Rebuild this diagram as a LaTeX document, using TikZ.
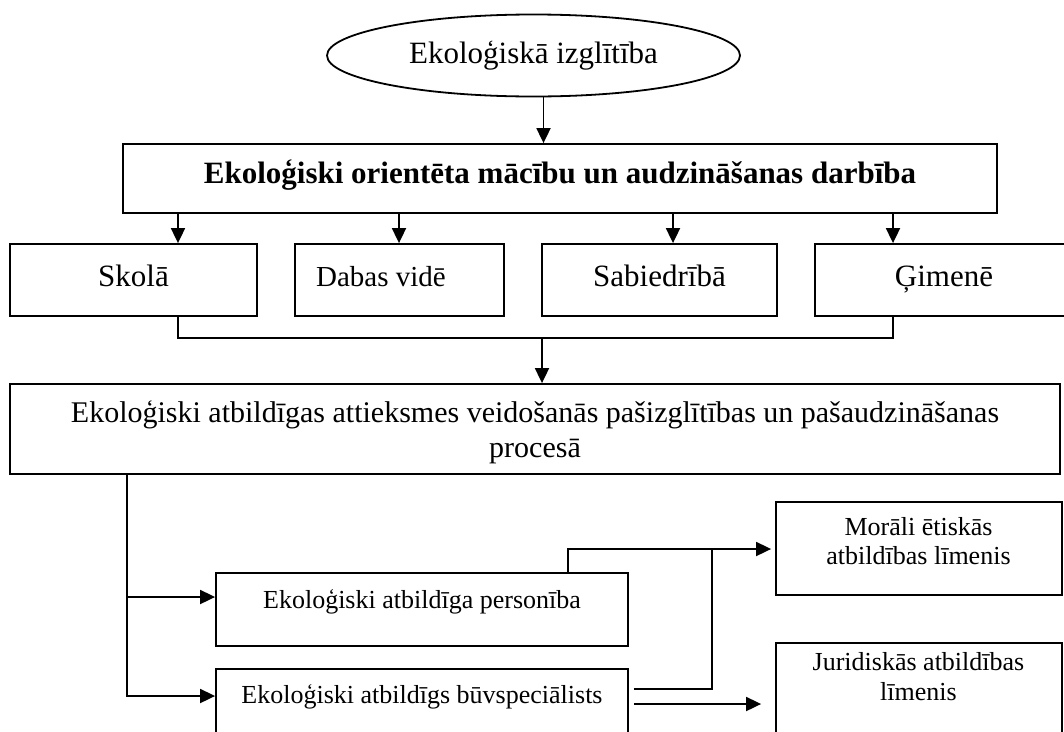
\documentclass[tikz,border=0pt]{standalone}
\usepackage{fontspec}
\setmainfont{Liberation Serif}
\usetikzlibrary{arrows.meta,shapes.geometric}
\begin{document}
\begin{tikzpicture}[x=1pt,y=-1pt,
  line width=1.8pt,
  box/.style={draw, rectangle, inner sep=0pt},
  txt/.style={inner sep=0pt, anchor=base, align=center},
  arr/.style={-{Triangle[length=15pt,width=14pt]}},
  fbig/.style={font=\fontsize{31}{36}\selectfont},
  fbold/.style={font=\fontsize{31}{36}\selectfont\bfseries},
  fmid/.style={font=\fontsize{29}{34}\selectfont},
  fproc/.style={font=\fontsize{30}{35}\selectfont},
  fsmall/.style={font=\fontsize{26}{30}\selectfont},
]
\useasboundingbox (0,0) rectangle (1064,731);

% ---- top: the ellipse and the activity box ----
\node[draw, ellipse, minimum width=413pt, minimum height=82pt, inner sep=0pt] (edu) at (533.5,55.5) {};
\node[txt, fbig] (eduT) at (533.5,63) {Ekoloģiskā izglītība};

\node[box, minimum width=874pt, minimum height=69pt] (act) at (560,178.5) {};
\node[txt, fbold] (actT) at (560,183) {Ekoloģiski orientēta mācību un audzināšanas darbība};

\draw[arr] ([xshift=10pt]edu.south) -- ([xshift=10pt]edu.south |- act.north);

% ---- the four settings ----
\node[box, minimum width=247pt, minimum height=72pt] (skola) at (133.5,280) {};
\node[box, minimum width=209pt, minimum height=72pt] (daba)  at (399.5,280) {};
\node[box, minimum width=235pt, minimum height=72pt] (sabi)  at (659.5,280) {};
\node[box, minimum width=258pt, minimum height=72pt] (gim)   at (944,280) {};
\node[txt, fbig] (skolaT) at (133.5,286) {Skolā};
\node[txt, fmid] (dabaT)  at (381,286) {Dabas vidē};
\node[txt, fbig] (sabiT)  at (659.5,286) {Sabiedrībā};
\node[txt, fbig] (gimT)   at (944,286) {Ģimenē};

\coordinate (d1) at (178,0);
\coordinate (d2) at (399,0);
\coordinate (d3) at (673,0);
\coordinate (d4) at (893,0);
\draw[arr] (d1 |- act.south) -- (d1 |- skola.north);
\draw[arr] (d2 |- act.south) -- (d2 |- daba.north);
\draw[arr] (d3 |- act.south) -- (d3 |- sabi.north);
\draw[arr] (d4 |- act.south) -- (d4 |- gim.north);

% ---- merge into the attitude box ----
\node[box, minimum width=1050pt, minimum height=90pt] (att) at (535,429) {};
\node[txt, fproc] (attT1) at (535,422) {Ekoloģiski atbildīgas attieksmes veidošanās pašizglītības un pašaudzināšanas};
\node[txt, fproc] (attT2) at (535,457) {procesā};

\coordinate (mrg) at (542,338);
\draw (d1 |- skola.south) |- (mrg) -| (d4 |- gim.south);
\draw[arr] (mrg) -- (mrg |- att.north);

% ---- personality and specialist ----
\node[box, minimum width=412pt, minimum height=73pt] (pers) at (422,609.5) {};
\node[box, minimum width=412pt, minimum height=80pt] (buv)  at (422,709) {};
\node[txt, fsmall] (persT) at (422,608) {Ekoloģiski atbildīga personība};
\node[txt, fsmall] (buvT)  at (422,703) {Ekoloģiski atbildīgs būvspeciālists};

\coordinate (L) at (127,0);
\coordinate (a1) at (0,597);
\coordinate (a2) at (0,696);
\draw[arr] (att.south -| L) |- (a1 -| pers.west);
\draw[arr] (att.south -| L) |- (a2 -| buv.west);

% ---- responsibility levels ----
\node[box, minimum width=286pt, minimum height=93pt] (moral) at (919,548.5) {};
\node[box, minimum width=286pt, minimum height=127pt] (jur) at (919,706.5) {};
\node[txt, fsmall] (moralT1) at (918.5,535) {Morāli ētiskās};
\node[txt, fsmall] (moralT2) at (918.5,564) {atbildības līmenis};
\node[txt, fsmall] (jurT1) at (918.5,670) {Juridiskās atbildības};
\node[txt, fsmall] (jurT2) at (918.5,700) {līmenis};

\coordinate (up) at (568,549);
\coordinate (j) at (712,549);
\coordinate (m1) at (0,689);
\coordinate (m2) at (0,704);
\draw[arr, shorten >=4pt] (up |- pers.north) -- (up) -- (up -| moral.west);
\draw[shorten <=5pt] (buv.east |- m1) -- (j |- m1) -- (j);
\draw[arr, shorten <=5pt, shorten >=14pt] (buv.east |- m2) -- (m2 -| jur.west);
\end{tikzpicture}
\end{document}
